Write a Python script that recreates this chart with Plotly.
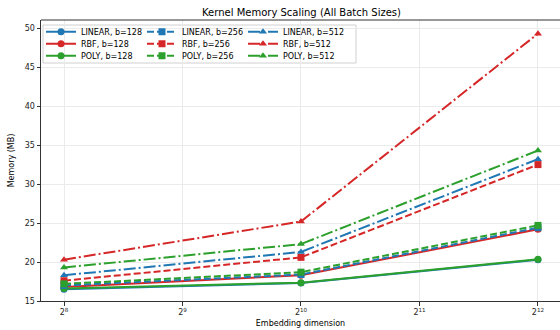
import plotly.graph_objects as go

# ---- data ----
dims = [256, 1024, 4096]
kernels = ["LINEAR", "RBF", "POLY"]
batches = [128, 256, 512]
linear_128 = [16.5, 17.3, 20.3]
rbf_128 = [16.8, 18.3, 24.2]
poly_128 = [16.6, 17.35, 20.35]
linear_256 = [17.0, 18.4, 24.4]
rbf_256 = [17.6, 20.6, 32.5]
poly_256 = [17.2, 18.7, 24.7]
linear_512 = [18.3, 21.3, 33.2]
rbf_512 = [20.3, 25.2, 49.3]
poly_512 = [19.3, 22.3, 34.3]
x_tickvals = [256, 512, 1024, 2048, 4096]
x_ticktext = ["2<sup>8</sup>", "2<sup>9</sup>", "2<sup>10</sup>", "2<sup>11</sup>", "2<sup>12</sup>"]
y_tickvals = [15, 20, 25, 30, 35, 40, 45, 50]

series = {
    ("LINEAR", 128): linear_128, ("RBF", 128): rbf_128, ("POLY", 128): poly_128,
    ("LINEAR", 256): linear_256, ("RBF", 256): rbf_256, ("POLY", 256): poly_256,
    ("LINEAR", 512): linear_512, ("RBF", 512): rbf_512, ("POLY", 512): poly_512,
}

colors = {"LINEAR": "#1f77b4", "RBF": "#d62728", "POLY": "#2ca02c"}
symbols = {128: "circle", 256: "square", 512: "triangle-up"}
dashes = {128: "solid", 256: "7px,3px", 512: "12px,3px,2px,3px"}
legend_of = {"LINEAR": "legend", "RBF": "legend2", "POLY": "legend3"}

W, H = 560, 330
L, R, T, B = 41, 0, 20, 29
pw, ph = W - L - R, H - T - B

def px_x(p):
    return (p - L) / pw

def px_y(p):
    return 1 - (p - T) / ph

fig = go.Figure()
for b in batches:
    for k in kernels:
        fig.add_trace(go.Scatter(
            x=dims, y=series[(k, b)], mode="lines+markers",
            name=f"{k}, b={b}",
            line=dict(color=colors[k], width=2, dash=dashes[b]),
            marker=dict(symbol=symbols[b], size=7, color=colors[k]),
            legend=legend_of[k],
        ))

font = "DejaVu Sans, Arial, sans-serif"
leg_common = dict(orientation="h", bgcolor="rgba(0,0,0,0)", borderwidth=0,
                  font=dict(family=font, size=8, color="#000"),
                  xanchor="left", yanchor="middle", entrywidth=56,
                  itemwidth=30, x=0.0)

fig.update_layout(
    width=W, height=H,
    margin=dict(l=L, r=R, t=T, b=B),
    paper_bgcolor="white", plot_bgcolor="white",
    font=dict(family=font, size=8, color="#000"),
    title=dict(text="Kernel Memory Scaling (All Batch Sizes)", x=(L + pw / 2 + 1) / W,
               xanchor="center", y=1 - 12 / H, yanchor="middle",
               font=dict(size=10, family=font, color="#000")),
    legend=dict(**leg_common, y=px_y(31.7)),
    legend2=dict(**leg_common, y=px_y(43.7)),
    legend3=dict(**leg_common, y=px_y(55.7)),
    xaxis=dict(type="log", range=[2.3498, 3.6683], tickvals=x_tickvals, ticktext=x_ticktext,
               showgrid=True, gridcolor="#ebebeb", gridwidth=0.8,
               showline=True, linecolor="#333", linewidth=1, mirror=False,
               ticks="outside", ticklen=3.5, tickcolor="#333", tickwidth=0.8,
               tickfont=dict(size=8, family=font, color="#222"),
               title=dict(text="Embedding dimension", font=dict(size=8, family=font, color="#000"), standoff=4),
               zeroline=False),
    yaxis=dict(range=[15, 51.05], tickvals=y_tickvals,
               showgrid=True, gridcolor="#ebebeb", gridwidth=0.8,
               showline=True, linecolor="#333", linewidth=1,
               ticks="outside", ticklen=3.5, tickcolor="#333", tickwidth=0.8,
               tickfont=dict(size=8, family=font, color="#222"),
               title=dict(text="Memory (MB)", font=dict(size=8, family=font, color="#000"), standoff=8),
               zeroline=False),
    showlegend=True,
)

# top spine
fig.add_shape(type="line", xref="paper", yref="paper", x0=0, x1=1, y0=1, y1=1,
              line=dict(color="#333", width=1))
# legend frame
fig.add_shape(type="rect", xref="paper", yref="paper",
              x0=px_x(43), x1=px_x(356), y0=px_y(63), y1=px_y(25),
              line=dict(color="#d0d0d0", width=1), fillcolor="rgba(255,255,255,0.8)",
              layer="below")

fig.write_html("out.html")
